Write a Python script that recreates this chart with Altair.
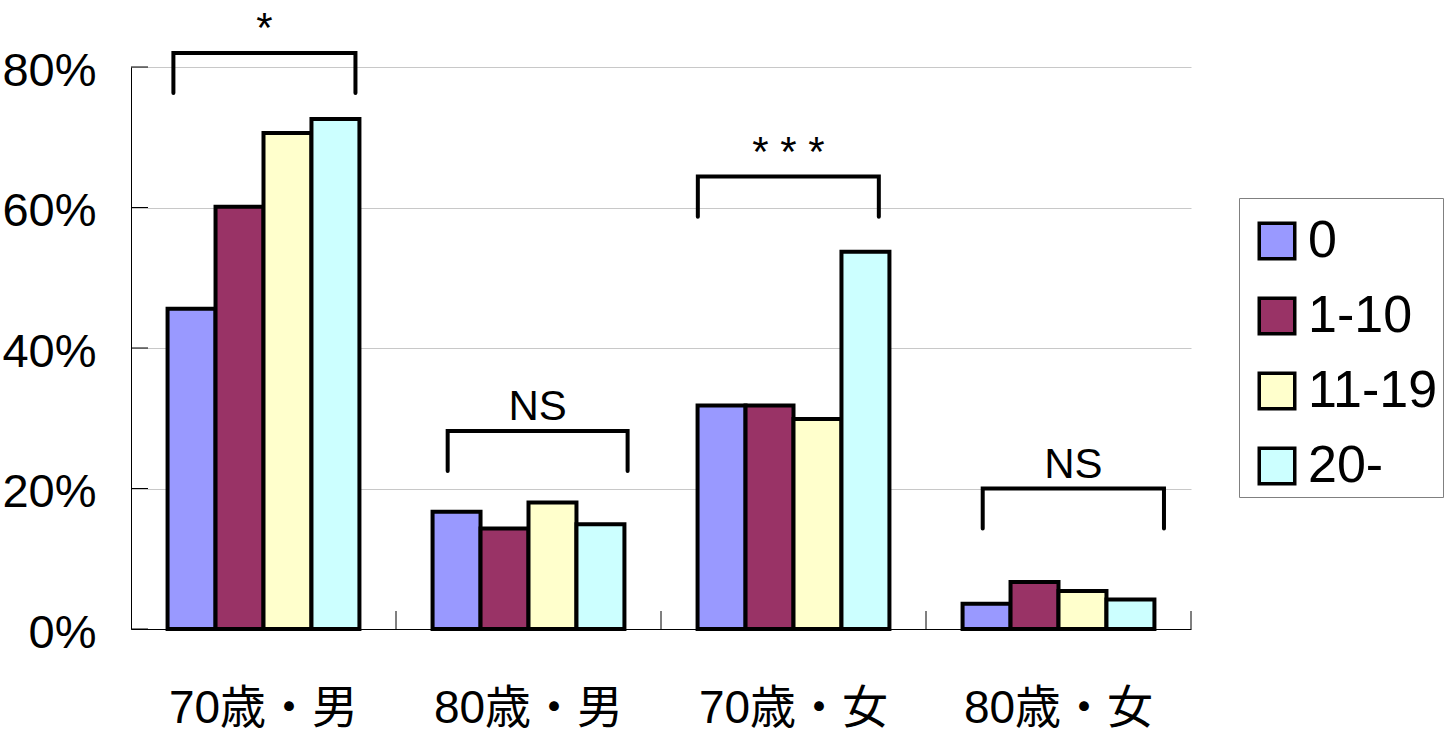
import altair as alt
import pandas as pd

# Groups (age x sex) and exposure categories
groups = ["70歳・男", "80歳・男", "70歳・女", "80歳・女"]
series = ["0", "1-10", "11-19", "20-"]
colors = ["#9999FF", "#993366", "#FFFFCC", "#CCFFFF"]

# Percent values per category, in group order
vals_0 = [45.6, 16.7, 31.8, 3.6]
vals_1_10 = [60.1, 14.3, 31.8, 6.7]
vals_11_19 = [70.6, 18.0, 29.9, 5.4]
vals_20 = [72.6, 14.9, 53.7, 4.2]

y_ticks = [0, 20, 40, 60, 80]

# Significance brackets: x in group units (0..4), y in percent
sig_labels = ["*", "NS", "* * *", "NS"]
sig_left = [0.160, 1.195, 2.139, 3.214]
sig_right = [0.847, 1.874, 2.822, 3.898]
sig_top = [82.0, 28.2, 64.4, 20.0]
sig_bottom = [76.3, 22.5, 58.7, 14.3]

W, H = 1060, 562
NUM_FONT = "Liberation Sans"
CAT_FONT = "Liberation Sans, Noto Sans CJK JP"

rows = []
for s, vals in zip(series, [vals_0, vals_1_10, vals_11_19, vals_20]):
    for g, v in zip(groups, vals):
        rows.append({"group": g, "series": s, "value": v})
bar_df = pd.DataFrame(rows)

y_scale = alt.Scale(domain=[0, 80], nice=False, zero=True)
gx_scale = alt.Scale(domain=[0, len(groups)], nice=False, zero=False)

bars = alt.Chart(bar_df).mark_bar(stroke="black", strokeWidth=4).encode(
    x=alt.X(
        "group:N",
        sort=groups,
        title=None,
        scale=alt.Scale(paddingInner=0.276, paddingOuter=0.138),
        axis=alt.Axis(
            labelAngle=0,
            labelFont=CAT_FONT,
            labelFontSize=46,
            labelColor="black",
            labelPadding=57,
            labelLimit=0,
            ticks=False,
            tickSize=0,
            domainColor="black",
            domainWidth=1,
            grid=False,
        ),
    ),
    xOffset=alt.XOffset("series:N", sort=series),
    y=alt.Y(
        "value:Q",
        title=None,
        scale=y_scale,
        axis=alt.Axis(
            values=y_ticks,
            labelExpr="datum.value + '%'",
            labelFont=NUM_FONT,
            labelFontSize=47,
            labelColor="black",
            labelPadding=35,
            labelOffset=4,
            labelLimit=0,
            ticks=False,
            tickSize=0,
            domainColor="black",
            domainWidth=1,
            grid=True,
            gridColor="#c8c8c8",
            gridWidth=1,
        ),
    ),
    color=alt.Color(
        "series:N",
        sort=series,
        scale=alt.Scale(domain=series, range=colors),
        legend=alt.Legend(
            title=" ",
            titleFontSize=10,
            titlePadding=2,
            orient="none",
            legendX=1108,
            legendY=131,
            symbolType="square",
            symbolSize=1260,
            symbolStrokeWidth=3.5,
            symbolStrokeColor="black",
            symbolOpacity=1,
            symbolOffset=7,
            labelFont=NUM_FONT,
            labelFontSize=52,
            labelColor="black",
            labelOffset=5,
            rowPadding=23,
            padding=5,
            strokeColor="#808080",
            fillColor="white",
        ),
    ),
)

# Inward-pointing y ticks
ytick_df = pd.DataFrame({"v": y_ticks})
y_ticks_layer = alt.Chart(ytick_df).mark_rule(color="black", strokeWidth=1).encode(
    y=alt.Y("v:Q", scale=y_scale),
    x=alt.value(0),
    x2=alt.value(17),
)

# Inward-pointing x ticks at group boundaries
xtick_df = pd.DataFrame({"b": list(range(1, len(groups) + 1))})
x_ticks_layer = alt.Chart(xtick_df).mark_rule(color="black", strokeWidth=1).encode(
    x=alt.X("b:Q", scale=gx_scale, axis=None),
    y=alt.value(H),
    y2=alt.value(H - 18),
)

# Bracket paths
br_rows = []
for i, (xl, xr, yt, yb) in enumerate(zip(sig_left, sig_right, sig_top, sig_bottom)):
    br_rows += [
        {"id": i, "o": 0, "gx": xl, "v": yb},
        {"id": i, "o": 1, "gx": xl, "v": yt},
        {"id": i, "o": 2, "gx": xr, "v": yt},
        {"id": i, "o": 3, "gx": xr, "v": yb},
    ]
br_df = pd.DataFrame(br_rows)
brackets = alt.Chart(br_df).mark_line(
    color="black", strokeWidth=4, strokeCap="round", strokeJoin="miter"
).encode(
    x=alt.X("gx:Q", scale=gx_scale, axis=None),
    y=alt.Y("v:Q", scale=y_scale),
    detail="id:N",
    order="o:Q",
)

lab_df = pd.DataFrame({
    "label": sig_labels,
    "mid": [(a + b) / 2 for a, b in zip(sig_left, sig_right)],
    "top": sig_top,
})
labels = alt.Chart(lab_df).mark_text(
    font=NUM_FONT, fontSize=42, color="black", baseline="alphabetic", align="center", dy=-11
).encode(
    x=alt.X("mid:Q", scale=gx_scale, axis=None),
    y=alt.Y("top:Q", scale=y_scale),
    text="label:N",
)

chart = alt.layer(bars, y_ticks_layer, x_ticks_layer, brackets, labels).resolve_scale(
    x="independent"
).properties(
    width=W,
    height=H,
    autosize=alt.AutoSizeParams(type="none"),
    padding={"left": 131, "top": 67, "right": 263, "bottom": 105},
    background="white",
).configure_view(stroke=None)

chart.save("out.html", embed_options={"renderer": "svg", "actions": False})
